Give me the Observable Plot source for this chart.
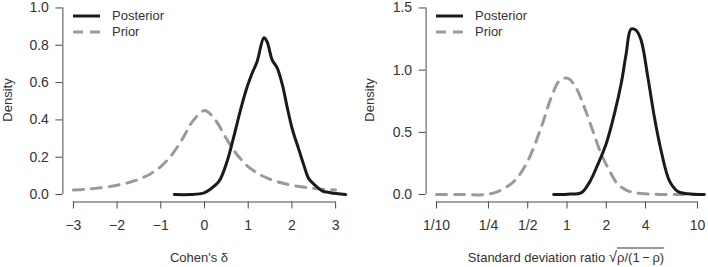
<!DOCTYPE html>
<html>
<head>
<meta charset="utf-8">
<script src="https://cdn.jsdelivr.net/npm/d3@7"></script>
<script src="https://cdn.jsdelivr.net/npm/@observablehq/plot@0.6"></script>
<style>
  html, body { margin: 0; padding: 0; background: #fff; }
  #wrap { position: relative; width: 708px; height: 267px; font-family: "Liberation Sans", Arial, Helvetica, sans-serif; color: #333; }
  .panel { position: absolute; top: 0; width: 354px; height: 267px; }
  .txt { position: absolute; font-size: 13px; white-space: nowrap; color: #333; }
  .ylab { transform: translate(-50%, -50%) rotate(-90deg); }
  .xlab { transform: translate(-50%, -50%); }
  .leg { position: absolute; font-size: 13px; }
  .leg svg { position: absolute; left: 0; top: 0; overflow: visible; }
</style>
</head>
<body>
<div id="wrap"></div>
<script>
// ---------- Left panel: Cohen's delta ----------
const deltaPostX = [-0.69, -0.32, -0.01, 0.14, 0.33, 0.52, 0.67, 0.82, 0.98, 1.09, 1.2, 1.36, 1.43, 1.55, 1.66, 1.78, 1.89, 2.01, 2.16, 2.27, 2.39, 2.54, 2.69, 2.88, 3.23];
const deltaPostY = [0, 0, 0.009, 0.03, 0.07, 0.18, 0.31, 0.45, 0.58, 0.65, 0.71, 0.84, 0.82, 0.72, 0.68, 0.59, 0.47, 0.35, 0.24, 0.16, 0.084, 0.048, 0.02, 0.01, 0];
const deltaPriorX = [-3, -2.75, -2.5, -2.25, -2, -1.75, -1.5, -1.25, -1, -0.75, -0.5, -0.25, 0, 0.25, 0.5, 0.75, 1, 1.25, 1.5, 1.75, 2, 2.25, 2.5, 2.75, 3];
const deltaPriorY = [0.024, 0.028, 0.033, 0.040, 0.050, 0.063, 0.082, 0.109, 0.150, 0.212, 0.300, 0.399, 0.450, 0.399, 0.300, 0.212, 0.150, 0.109, 0.082, 0.063, 0.050, 0.040, 0.033, 0.028, 0.024];
const deltaXTicks = [-3, -2, -1, 0, 1, 2, 3];
const deltaYTicks = [0, 0.2, 0.4, 0.6, 0.8, 1.0];

// ---------- Right panel: standard deviation ratio ----------
const sdPostX = [0.79, 1.01, 1.29, 1.49, 1.72, 2.0, 2.31, 2.6, 2.84, 3.1, 3.39, 3.7, 4.17, 4.68, 5.27, 6.1, 7.07, 8.43, 11.3];
const sdPostY = [0, 0.003, 0.015, 0.1, 0.24, 0.41, 0.65, 0.89, 1.13, 1.33, 1.32, 1.24, 0.94, 0.62, 0.35, 0.11, 0.025, 0.006, 0];
const sdPriorX = [0.1, 0.15, 0.233, 0.295, 0.396, 0.5, 0.634, 0.757, 0.877, 1.01, 1.17, 1.36, 1.58, 1.83, 2.12, 2.45, 2.93, 3.7, 5.9, 10];
const sdPriorY = [0, 0, 0, 0.024, 0.11, 0.27, 0.54, 0.78, 0.915, 0.936, 0.86, 0.70, 0.51, 0.325, 0.19, 0.083, 0.03, 0.008, 0, 0];
const sdXTicks = [0.1, 0.25, 0.5, 1, 2, 4, 10];
const sdXTickLabels = ["1/10", "1/4", "1/2", "1", "2", "4", "10"];
const sdYTicks = [0, 0.5, 1.0, 1.5];

const seriesNames = ["Posterior", "Prior"];

const postColor = "#1a1a1a";
const priorColor = "#9a9a9a";
const axisColor = "#4a4a4a";
const font = '"Liberation Sans", Arial, Helvetica, sans-serif';

const zip = (xs, ys) => xs.map((x, i) => ({x, y: ys[i]}));
const pad4 = (a, b) => [a - 0.04 * (b - a), b + 0.04 * (b - a)];

function panel({postX, postY, priorX, priorY, xTicks, xTickFormat, yTicks, xType, marginLeft, marginRight}) {
  let xDom;
  if (xType === "log") {
    const [l0, l1] = pad4(Math.log10(xTicks[0]), Math.log10(xTicks[xTicks.length - 1]));
    xDom = [10 ** l0, 10 ** l1];
  } else {
    xDom = pad4(xTicks[0], xTicks[xTicks.length - 1]);
  }
  const yDom = pad4(yTicks[0], yTicks[yTicks.length - 1]);
  return Plot.plot({
    width: 354,
    height: 267,
    marginLeft, marginRight,
    marginTop: 0,
    marginBottom: 65.5,
    style: {fontFamily: font, fontSize: "14px", color: "#333", background: "transparent", overflow: "visible"},
    x: {type: xType || "linear", domain: xDom},
    y: {domain: yDom},
    marks: [
      Plot.ruleY([yDom[0]], {x1: xTicks[0], x2: xTicks[xTicks.length - 1], stroke: axisColor, strokeWidth: 1}),
      Plot.ruleX([xDom[0]], {y1: yTicks[0], y2: yTicks[yTicks.length - 1], stroke: axisColor, strokeWidth: 1}),
      Plot.axisX({ticks: xTicks, tickFormat: xTickFormat, tickSize: 7, tickPadding: 11, label: null, stroke: axisColor, color: "#333", fontSize: 14}),
      Plot.axisY({ticks: yTicks, tickFormat: d => d.toFixed(1), tickSize: 7, tickPadding: 7, label: null, stroke: axisColor, color: "#333", fontSize: 14}),
      Plot.line(zip(priorX, priorY), {x: "x", y: "y", stroke: priorColor, strokeWidth: 3, strokeDasharray: "10,8", curve: "catmull-rom"}),
      Plot.line(zip(postX, postY), {x: "x", y: "y", stroke: postColor, strokeWidth: 3, curve: "catmull-rom"})
    ]
  });
}

const wrap = document.getElementById("wrap");

const left = panel({
  postX: deltaPostX, postY: deltaPostY, priorX: deltaPriorX, priorY: deltaPriorY,
  xTicks: deltaXTicks, xTickFormat: d => (d < 0 ? "\u2212" + Math.abs(d) : String(d)),
  yTicks: deltaYTicks, marginLeft: 62.4, marginRight: 8.4
});
const right = panel({
  postX: sdPostX, postY: sdPostY, priorX: sdPriorX, priorY: sdPriorY,
  xTicks: sdXTicks, xTickFormat: d => sdXTickLabels[sdXTicks.indexOf(d)],
  yTicks: sdYTicks, xType: "log", marginLeft: 71.6, marginRight: 0.6
});

function addPanel(svg, leftPx) {
  const d = document.createElement("div");
  d.className = "panel";
  d.style.left = leftPx + "px";
  d.appendChild(svg);
  wrap.appendChild(d);
}
addPanel(left, 0);
addPanel(right, 354);

function addText(html, x, y, cls) {
  const d = document.createElement("div");
  d.className = "txt " + cls;
  d.style.left = x + "px";
  d.style.top = y + "px";
  d.innerHTML = html;
  wrap.appendChild(d);
}
addText("Density", 7, 100, "ylab");
addText("Density", 369, 100, "ylab");
addText("Cohen's \u03b4", 199, 257, "xlab");
addText('Standard deviation ratio <span style="font-size:15px">\u221a</span><span style="border-top:1px solid #333;padding-top:1px">\u03c1/(1\u2009\u2212\u2009\u03c1)</span>', 566, 256, "xlab");

function addLegend(x0) {
  const g = document.createElement("div");
  g.className = "leg";
  g.style.left = x0 + "px";
  g.style.top = "0px";
  const svg = d3.create("svg").attr("width", 30).attr("height", 40);
  const styles = [
    {stroke: postColor, dash: null},
    {stroke: priorColor, dash: "10,7"}
  ];
  seriesNames.forEach((name, i) => {
    const y = 16 + 16 * i;
    svg.append("line").attr("x1", 0).attr("x2", 27).attr("y1", y).attr("y2", y)
      .attr("stroke", styles[i].stroke).attr("stroke-width", 3)
      .attr("stroke-dasharray", styles[i].dash);
    const t = document.createElement("div");
    t.style.position = "absolute";
    t.style.left = "39px";
    t.style.top = (y - 8) + "px";
    t.style.lineHeight = "16px";
    t.style.color = "#333";
    t.textContent = name;
    g.appendChild(t);
  });
  g.appendChild(svg.node());
  wrap.appendChild(g);
}
addLegend(73);
addLegend(436);
</script>
</body>
</html>
